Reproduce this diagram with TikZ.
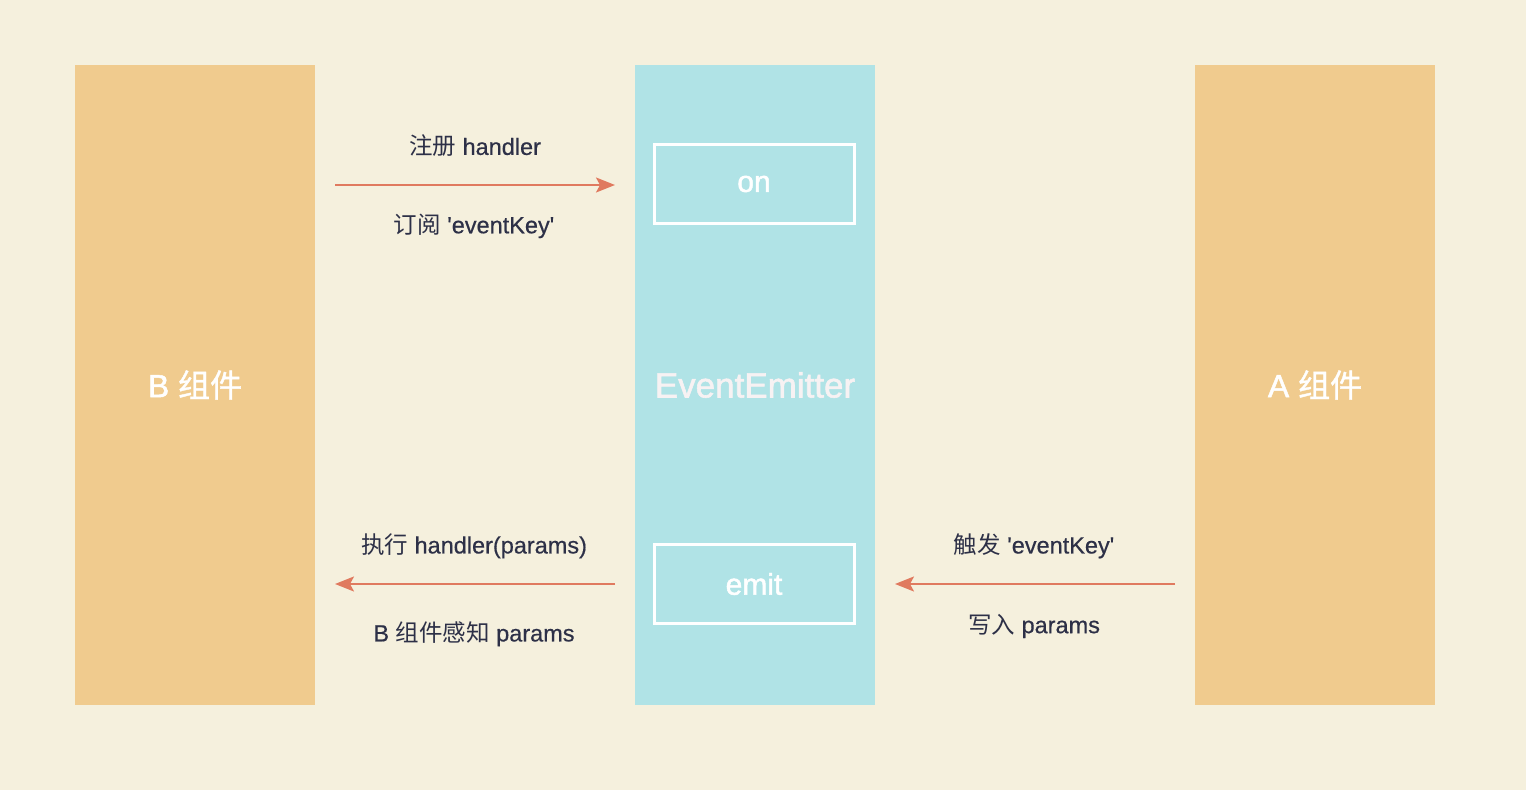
\documentclass[tikz,border=0pt]{standalone}
\usepackage{fontspec}
\setmainfont{Liberation Sans}[FakeBold=0.6,AutoFakeBold=0.6]
\newfontfamily\cjk{Noto Sans CJK SC}
\newfontfamily\heavy{Liberation Sans}[FakeBold=1.6]
\newfontfamily\cjkheavy{Noto Sans CJK SC}[FakeBold=1.2]
\newfontfamily\lat{Liberation Sans}[FakeBold=0.5]
\usetikzlibrary{arrows.meta}
\definecolor{bg}{HTML}{F5F0DD}
\definecolor{comp}{HTML}{F0CB8E}
\definecolor{emi}{HTML}{B0E3E6}
\definecolor{txt}{HTML}{2D3047}
\definecolor{arr}{HTML}{E07A5F}
\newcommand{\q}{\textquotesingle}
\tikzset{
  panel/.style={draw=none, minimum width=240pt, minimum height=640pt, inner sep=0pt},
  method/.style={draw=white, line width=3pt, minimum width=200pt, minimum height=79pt, inner sep=0pt, text=white, font=\heavy\fontsize{30}{34}\selectfont},
  big/.style={text=white, font=\heavy\fontsize{32}{36}\selectfont},
  lbl/.style={text=txt, font=\lat\fontsize{23.5}{27}\selectfont, inner sep=0pt},
  flow/.style={draw=arr, line width=2pt, -{Stealth[length=19pt, width=15pt, inset=4pt]}}
}
\begin{document}
\begin{tikzpicture}[x=1pt, y=-1pt]
\useasboundingbox[fill=bg] (0,0) rectangle (1526,790);
\node[panel, fill=comp] (B) at (195,385) {};
\node[panel, fill=emi] (E) at (755,385) {};
\node[panel, fill=comp] (A) at (1315,385) {};
\node[big] (Bt) at (B.center) {B {\cjkheavy 组件}};
\node[big] (At) at (A.center) {A {\cjkheavy 组件}};
\node[text=white!90!emi!96!red, font=\heavy\fontsize{35}{40}\selectfont] (Et) at (E.center) {EventEmitter};
\node[method] (on) at (754,184) {on};
\node[method] (emit) at (754,584) {emit};
\coordinate (t1) at (335,185);
\coordinate (t2) at (615,185);
\coordinate (l1) at (615,584);
\coordinate (l2) at (335,584);
\coordinate (r1) at (1175,584);
\coordinate (r2) at (895,584);
\draw[flow] (t1) -- (t2);
\draw[flow] (l1) -- (l2);
\draw[flow] (r1) -- (r2);
\node[lbl] (a1) at (475,146) {{\cjk 注册} handler};
\node[lbl] (a2) at (474,226) {{\cjk 订阅} \q eventKey\q};
\node[lbl] (b1) at (474,546) {{\cjk 执行} handler(params)};
\node[lbl] (b2) at (474,634) {B {\cjk 组件感知} params};
\node[lbl] (c1) at (1034,546) {{\cjk 触发} \q eventKey\q};
\node[lbl] (c2) at (1034,626) {{\cjk 写入} params};
\end{tikzpicture}
\end{document}
